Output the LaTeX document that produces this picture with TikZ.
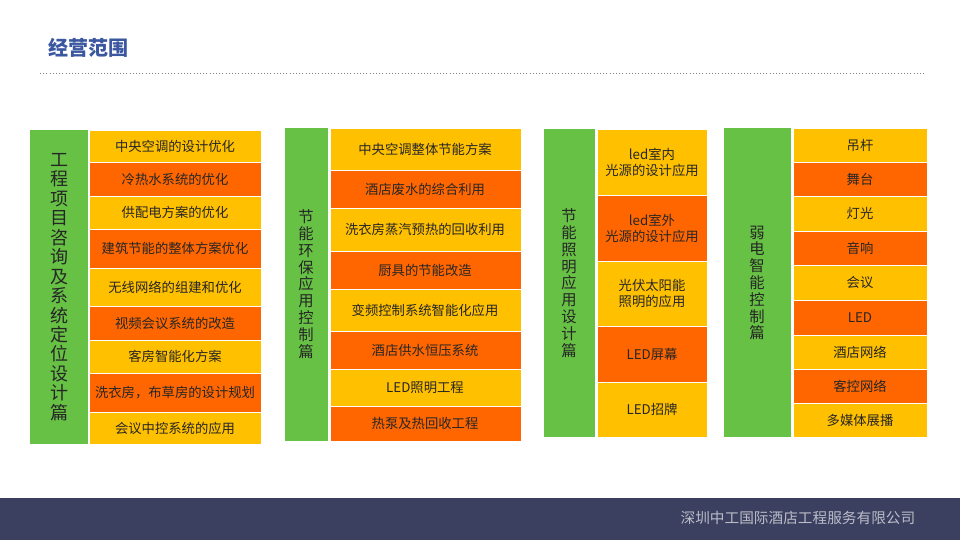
\documentclass[tikz,border=0pt]{standalone}
\usepackage{fontspec}
\setmainfont{Noto Sans CJK SC}
\definecolor{yel}{HTML}{FFC000}
\definecolor{org}{HTML}{FF6600}
\definecolor{grn}{HTML}{66C144}
\definecolor{band}{HTML}{3C4060}
\definecolor{ttl}{HTML}{3B57A0}
\begin{document}
\begin{tikzpicture}[x=0.75pt,y=-0.75pt,
  cell/.style={inner sep=0pt,font=\fontsize{10}{12}\selectfont,text=black!85,align=center},
  side/.style={inner sep=0pt,text=black!85,align=center}]
\useasboundingbox (0,0) rectangle (960,540);
\fill[white] (0,0) rectangle (960,540);
\node[anchor=west,font=\bfseries\fontsize{15}{18}\selectfont,text=ttl] (title) at (44,48) {经营范围};
\draw[dotted,gray] (40,73) -- (925,73);
\fill[band] (0,498) rectangle (960,540);
\node[anchor=east,text=white!65!band,font=\fontsize{11}{13}\selectfont] (co) at (920,518) {深圳中工国际酒店工程服务有限公司};
% column 1
\fill[grn] (30,130) rectangle (88,444);
\node[side,font=\fontsize{13.5}{14.6}\selectfont] (g1) at (59,287) {\parbox{14pt}{\centering 工\\程\\项\\目\\咨\\询\\及\\系\\统\\定\\位\\设\\计\\篇}};
\foreach \a/\b/\c/\t [count=\i] in {130/162/yel/中央空调的设计优化,162/196/org/冷热水系统的优化,196/229/yel/供配电方案的优化,229/268/org/建筑节能的整体方案优化,268/306/yel/无线网络的组建和优化,306/340/org/视频会议系统的改造,340/373/yel/客房智能化方案,373/412/org/洗衣房，布草房的设计规划,412/444/yel/会议中控系统的应用}
  {\filldraw[fill=\c,draw=white] (89,\a) rectangle (261,\b);
   \node[cell] (a\i) at (175,{(\a+\b)/2}) {\t};}
% column 2
\fill[grn] (285,128) rectangle (328,441);
\node[side,font=\fontsize{11.5}{12.6}\selectfont] (g2) at (306,284) {\parbox{12pt}{\centering 节\\能\\环\\保\\应\\用\\控\\制\\篇}};
\foreach \a/\b/\c/\t [count=\i] in {128/170/yel/中央空调整体节能方案,170/208/org/酒店废水的综合利用,208/251/yel/洗衣房蒸汽预热的回收利用,251/289/org/厨具的节能改造,289/331/yel/变频控制系统智能化应用,331/369/org/酒店供水恒压系统,369/406/yel/LED照明工程,406/441/org/热泵及热回收工程}
  {\filldraw[fill=\c,draw=white] (330,\a) rectangle (521,\b);
   \node[cell] (b\i) at (425,{(\a+\b)/2}) {\t};}
% column 3
\fill[grn] (544,129) rectangle (595,437);
\node[side,font=\fontsize{11.5}{12.6}\selectfont] (g3) at (569,283) {\parbox{12pt}{\centering 节\\能\\照\\明\\应\\用\\设\\计\\篇}};
\foreach \a/\b/\c/\t [count=\i] in {129/195/yel/{led室内\\光源的设计应用},195/261/org/{led室外\\光源的设计应用},261/326/yel/{光伏太阳能\\照明的应用},326/382/org/LED屏幕,382/437/yel/LED招牌}
  {\filldraw[fill=\c,draw=white] (597,\a) rectangle (707,\b);
   \node[cell] (c\i) at (652,{(\a+\b)/2}) {\t};}
% column 4
\fill[grn] (724,128) rectangle (791,437);
\node[side,font=\fontsize{11.5}{12.6}\selectfont] (g4) at (757,283) {\parbox{12pt}{\centering 弱\\电\\智\\能\\控\\制\\篇}};
\foreach \a/\b/\c/\t [count=\i] in {128/162/yel/吊杆,162/196/org/舞台,196/231/yel/灯光,231/265/org/音响,265/300/yel/会议,300/335/org/LED,335/369/yel/酒店网络,369/403/org/客控网络,403/437/yel/多媒体展播}
  {\filldraw[fill=\c,draw=white] (793,\a) rectangle (927,\b);
   \node[cell] (d\i) at (860,{(\a+\b)/2}) {\t};}
\end{tikzpicture}
\end{document}
